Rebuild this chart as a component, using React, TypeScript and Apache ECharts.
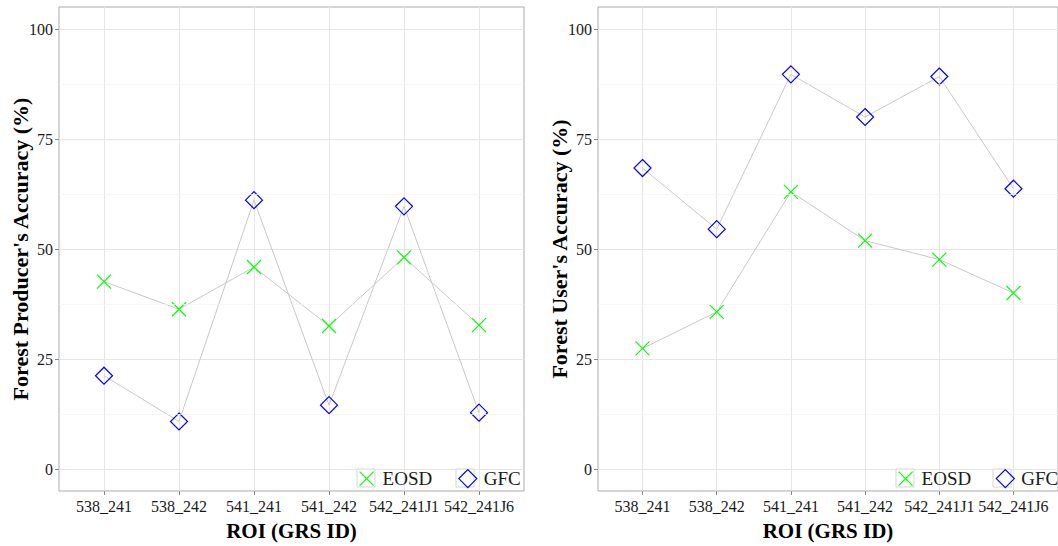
import React, { useEffect, useRef } from 'react';
import * as echarts from 'echarts';

// ROI identifiers along the x axis
const roiIds = ['538_241', '538_242', '541_241', '541_242', '542_241J1', '542_241J6'];

// Forest producer's accuracy (%)
const producerEOSD = [42.6, 36.3, 45.9, 32.5, 48.1, 32.7];
const producerGFC = [21.2, 10.8, 61.1, 14.5, 59.7, 12.8];

// Forest user's accuracy (%)
const userEOSD = [27.4, 35.7, 63.0, 51.9, 47.6, 40.0];
const userGFC = [68.4, 54.5, 89.7, 80.0, 89.2, 63.7];

const yTicks = [0, 25, 50, 75, 100];
const yMinorTicks = [12.5, 37.5, 62.5, 87.5];
const xTicks = roiIds.map((_, i) => i);

const FONT = '"Liberation Serif", "Times New Roman", serif';
const GREEN = '#00FF00';
const BLUE = '#0000FF';
const CONNECTOR = '#C8C8C8';
const BORDER = '#ABABAB';
const TICK = '#8A8A8A';
const GRID_MAJOR = '#E6E6E6';
const GRID_MINOR = '#F4F4F4';
const TEXT = '#1A1A1A';

const crossSymbol = 'path://M0,0L1,1M1,0L0,1';
// cross with a margin so it sits inside the legend key box
const crossLegendIcon = 'path://M0,0M2,2L16,16M16,2L2,16M18,18';

const panels = [
  { left: 59, width: 465, title: "Forest Producer's Accuracy (%)", eosd: producerEOSD, gfc: producerGFC, legendLeft: 357, legendGap: 26, boxes: [357, 456] },
  { left: 598, width: 462, title: "Forest User's Accuracy (%)", eosd: userEOSD, gfc: userGFC, legendLeft: 896, legendGap: 24.5, boxes: [896, 993] },
];
const PANEL_TOP = 7;
const PANEL_HEIGHT = 486;
const KEY = 18;
const KEY_TOP = 469;

export default function App() {
  const ref = useRef<HTMLDivElement>(null);

  useEffect(() => {
    if (!ref.current) return;
    const chart = echarts.init(ref.current, null, { renderer: 'svg' });

    const grid: any[] = [];
    const xAxis: any[] = [];
    const yAxis: any[] = [];
    const series: any[] = [];
    const legend: any[] = [];
    const graphic: any[] = [];

    panels.forEach((p, k) => {
      grid.push({
        left: p.left,
        top: PANEL_TOP,
        width: p.width,
        height: PANEL_HEIGHT,
        show: true,
        borderColor: BORDER,
        borderWidth: 1,
        backgroundColor: '#FFFFFF',
      });
      xAxis.push({
        type: 'value',
        gridIndex: k,
        position: 'bottom',
        min: -0.6,
        max: 5.6,
        axisLine: { show: false, onZero: false },
        axisTick: { show: true, customValues: xTicks, length: 4, lineStyle: { color: TICK, width: 1 } },
        axisLabel: {
          customValues: xTicks,
          formatter: (v: number) => roiIds[Math.round(v)] ?? '',
          fontFamily: FONT,
          fontSize: 16,
          color: TEXT,
          margin: 7,
        },
        splitLine: { show: true, lineStyle: { color: GRID_MAJOR, width: 1 } },
        name: 'ROI (GRS ID)',
        nameLocation: 'middle',
        nameGap: 29,
        nameMoveOverlap: false,
        nameTextStyle: { fontFamily: FONT, fontSize: 21, fontWeight: 'bold', color: '#000' },
      });
      yAxis.push({
        type: 'value',
        gridIndex: k,
        position: 'left',
        min: -5,
        max: 105,
        axisLine: { show: false, onZero: false },
        axisTick: { show: true, customValues: yTicks, length: 4, lineStyle: { color: TICK, width: 1 } },
        axisLabel: { customValues: yTicks, fontFamily: FONT, fontSize: 16, color: TEXT, margin: 6 },
        splitLine: { show: true, lineStyle: { color: GRID_MAJOR, width: 1 } },
        name: p.title,
        nameLocation: 'middle',
        nameGap: 28,
        nameMoveOverlap: false,
        nameTextStyle: { fontFamily: FONT, fontSize: 22, fontWeight: 'bold', color: '#000' },
      });

      // faint minor grid lines between the major ones
      series.push({
        type: 'line',
        name: 'minor-grid',
        xAxisIndex: k,
        yAxisIndex: k,
        data: [],
        z: 1,
        silent: true,
        markLine: {
          silent: true,
          symbol: ['none', 'none'],
          label: { show: false },
          lineStyle: { color: GRID_MINOR, width: 0.7, type: 'solid' },
          emphasis: { disabled: true },
          data: yMinorTicks.map((v) => ({ yAxis: v })),
        },
      });

      series.push({
        type: 'line',
        name: 'EOSD',
        xAxisIndex: k,
        yAxisIndex: k,
        data: p.eosd.map((v, i) => [i, v]),
        symbol: crossSymbol,
        symbolSize: 14,
        showAllSymbol: true,
        itemStyle: { color: 'rgba(0,0,0,0)', borderColor: GREEN, borderWidth: 1.2 },
        lineStyle: { color: CONNECTOR, width: 1 },
        emphasis: { disabled: true },
        z: 3,
      });
      series.push({
        type: 'line',
        name: 'GFC',
        xAxisIndex: k,
        yAxisIndex: k,
        data: p.gfc.map((v, i) => [i, v]),
        symbol: 'diamond',
        symbolSize: 17,
        showAllSymbol: true,
        itemStyle: { color: 'rgba(0,0,0,0)', borderColor: BLUE, borderWidth: 1.2 },
        lineStyle: { color: CONNECTOR, width: 1 },
        emphasis: { disabled: true },
        z: 3,
      });

      legend.push({
        left: p.legendLeft,
        top: KEY_TOP,
        width: 240,
        padding: 0,
        orient: 'horizontal',
        itemWidth: KEY,
        itemHeight: KEY,
        itemGap: p.legendGap,
        selectedMode: false,
        textStyle: { fontFamily: FONT, fontSize: 19, color: TEXT, padding: [0, 0, 0, 2] },
        data: [
          { name: 'EOSD', icon: crossLegendIcon, itemStyle: { color: 'rgba(0,0,0,0)', borderColor: GREEN, borderWidth: 1.2 } },
          { name: 'GFC', icon: 'diamond', itemStyle: { color: 'rgba(0,0,0,0)', borderColor: BLUE, borderWidth: 1.2 } },
        ],
      });

      p.boxes.forEach((bx) => {
        graphic.push({
          type: 'rect',
          x: bx,
          y: KEY_TOP,
          shape: { width: KEY, height: KEY },
          style: { fill: '#FFFFFF', stroke: '#D6D6D6', lineWidth: 1 },
          z: 3,
        });
      });
    });

    chart.setOption({
      animation: false,
      backgroundColor: '#FFFFFF',
      grid,
      xAxis,
      yAxis,
      series,
      legend,
      graphic,
    });

    return () => chart.dispose();
  }, []);

  return <div ref={ref} style={{ position: 'absolute', left: 0, top: 0, width: 1058, height: 546 }} />;
}
